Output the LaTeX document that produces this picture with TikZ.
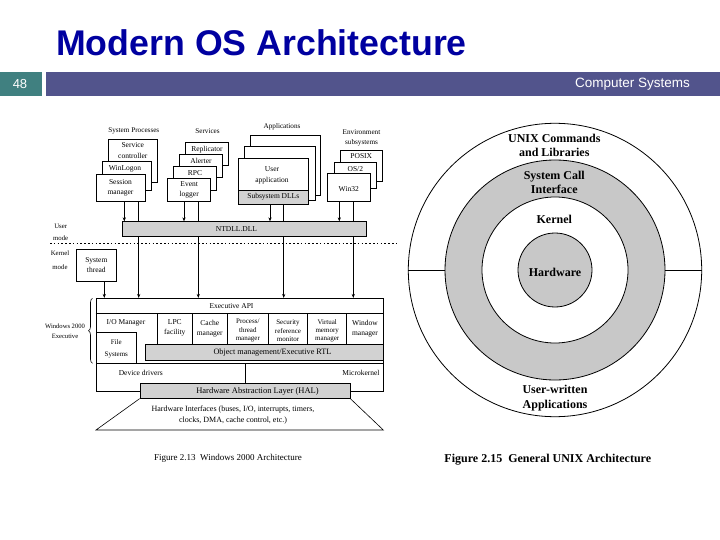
\documentclass[tikz,border=0pt]{standalone}
\usepackage{fontspec}
\setmainfont{Liberation Serif}
\newfontfamily\hdrfont{Liberation Sans}
\usetikzlibrary{arrows.meta,decorations.pathreplacing,fit}
\definecolor{titleblue}{RGB}{0,0,160}
\definecolor{barblue}{RGB}{82,84,140}
\definecolor{tealbox}{RGB}{64,128,128}
\definecolor{lgray}{RGB}{210,210,210}
\definecolor{rgray}{RGB}{200,200,200}
\newcommand\setfs[2]{\fontsize{#1}{#2}\selectfont}
\begin{document}
\begin{tikzpicture}[x=1pt,y=-1pt,
  box/.style={draw, line width=0.7pt, fill=white, inner sep=0pt},
  gbox/.style={box, fill=lgray},
  txt/.style={inner sep=0pt, font=\setfs{7.5}{10.5}, align=center},
  txs/.style={inner sep=0pt, font=\setfs{7}{8.4}, align=center},
  lbl/.style={inner sep=0pt, font=\setfs{7.2}{10.6}, align=center},
  arr/.style={line width=0.6pt, -{Stealth[length=4pt,width=3.2pt]}},
  ln/.style={line width=0.6pt},
  ring/.style={circle, draw, line width=0.8pt, inner sep=0pt},
  ulbl/.style={inner sep=0pt, font=\setfs{12}{14.4}\bfseries, align=center}
]
\useasboundingbox (0,0) rectangle (720,540);
% ---------- header ----------
\node[anchor=base west, inner sep=0pt, text=titleblue, font=\hdrfont\setfs{35.7}{40}\bfseries] (title) at (56,56) {Modern OS Architecture};
\fill[tealbox] (0,72) rectangle (42,96);
\fill[barblue] (46,72) rectangle (720,96);
\node[text=white, inner sep=0pt, font=\hdrfont\setfs{13}{15}] (pnum) at (20,84.5) {48};
\node[anchor=east, text=white, inner sep=0pt, font=\hdrfont\setfs{13.5}{15}] (course) at (690,84.5) {Computer Systems};

% ---------- Windows 2000 ----------
\node[lbl] (tsp) at (133.8,131) {System Processes};
\node[lbl] (tsv) at (207.5,131) {Services};
\node[lbl] (tap) at (282,126.5) {Applications};
\node[lbl] (tes) at (361.5,138) {Environment\\subsystems};

% system processes
\node[box, fit={(108.3,139)(157.3,182)}] (sc) {};
\node[txt] (tsc) at (132.8,150.5) {Service\\controller};
\node[box, fit={(102.3,161.7)(151.3,190)}] (wl) {};
\node[txt] (twl) at (125,168.7) {WinLogon};
\node[box, fit={(96,174)(145,201.7)}] (sm) {};
\node[txt] (tsm) at (sm) {Session\\manager};

% services
\node[box, line width=1pt, fit={(185.7,142.7)(228.3,166)}] (rep) {};
\node[txt] (trep) at (207,149.5) {Replicator};
\node[box, line width=1pt, fit={(179.3,154.3)(222.7,177.7)}] (alr) {};
\node[txt] (talr) at (201,161) {Alerter};
\node[box, fit={(173.3,166.7)(216.7,190)}] (rpc) {};
\node[txt] (trpc) at (195,172.7) {RPC};
\node[box, fit={(167.7,178.3)(210.7,201.7)}] (evl) {};
\node[txt] (tevl) at (evl) {Event\\logger};

% applications
\node[box, fit={(250.7,135)(320.7,195)}] (app3) {};
\node[box, fit={(244.3,146.7)(315,200)}] (app2) {};
\node[box, fit={(238.3,158.3)(308.3,190)}] (app1) {};
\node[txt] (tapp) at (272,175.5) {User\\application};
\node[gbox, fit={(238.3,190)(308.3,204.3)}] (dll) {};
\node[txt] (tdll) at (dll) {Subsystem DLLs};

% environment subsystems
\node[box, line width=1pt, fit={(340,150.7)(382.7,181.7)}] (posix) {};
\node[txt] (tposix) at (361.3,156.3) {POSIX};
\node[box, fit={(334,162.3)(376.7,188)}] (os2) {};
\node[txt] (tos2) at (355.3,169) {OS/2};
\node[box, fit={(327.7,173.3)(370,201.7)}] (w32) {};
\node[txt] (tw32) at (348.8,189.5) {Win32};

% NTDLL
\node[gbox, fit={(122.3,221.7)(366,236.7)}] (nt) {};
\node[txt] (tnt) at (236.5,229.2) {NTDLL.DLL};

% mode separator
\draw[line width=1.6pt, dash pattern=on 1.6pt off 2.2pt] (50,243.3) -- (398,243.3);
\node[txs, font=\setfs{6.8}{11.5}] (tum) at (60.7,232.5) {User\\mode};
\node[txs, font=\setfs{6.8}{14}] (tkm) at (60,260.3) {Kernel\\mode};
\node[box, fit={(76,249.3)(116.7,281)}] (st) {};
\node[txt] (tst) at (st) {System\\thread};

% executive
\node[box, fit={(96,298.3)(383.3,363.3)}] (ex) {};
\draw[ln] (ex.west |- 0,313.3) -- (ex.east |- 0,313.3);
\node[txt] (tapi) at (231.5,305.8) {Executive API};
\foreach \x in {157.3,192.3,227.3,268.3,307.7,346.7}
  \draw[ln] (\x,313.3) -- (\x,344.3);
\node[txt] (tio) at (126,323.3) {I/O Manager};
\node[txt, font=\setfs{7.5}{10}] (tlpc) at (174.8,328.3) {LPC\\facility};
\node[txt, font=\setfs{7.5}{10}] (tcache) at (209.8,328.3) {Cache\\manager};
\node[txs] (tproc) at (247.8,330.8) {Process/\\thread\\manager};
\node[txs] (tsec) at (288,330.8) {Security\\reference\\monitor};
\node[txs] (tvm) at (327.2,330.8) {Virtual\\memory\\manager};
\node[txt, font=\setfs{7.5}{10}] (twm) at (365,328.3) {Window\\manager};
\node[gbox, fit={(145.3,344.3)(383.3,360)}] (om) {};
\node[txt, font=\setfs{8.2}{10}] (tom) at (272.5,352.2) {Object management/Executive RTL};
\node[box, fit={(96,332.3)(136.7,363.3)}] (fs) {};
\node[txt, font=\setfs{7}{11.5}] (tfs) at (116.3,349) {File\\Systems};

% brace
\draw[decorate, decoration={brace, amplitude=4pt}, line width=0.6pt] (92.5,363.3) -- (92.5,298.3);
\node[txs, font=\setfs{6.6}{9.5}] (twe) at (65,331.3) {Windows 2000\\Executive};

% drivers / microkernel
\node[box, fit={(96,363.3)(383.3,391.7)}] (dd) {};
\draw[ln] (245,363.3) -- (245,383.3);
\node[txt] (tdd) at (140.8,373.3) {Device drivers};
\node[txt] (tmk) at (361,373.3) {Microkernel};

% HAL
\node[gbox, fit={(140,383.3)(350,398.3)}] (hal) {};
\node[txt, font=\setfs{8.5}{10}] (thal) at (257.5,391) {Hardware Abstraction Layer (HAL)};
\draw[ln] (hal.south west) -- (96,430) -- (383.3,430) -- (hal.south east);
\node[txt, font=\setfs{8}{11.4}] (thw) at (233,415) {Hardware Interfaces (buses, I/O, interrupts, timers,\\clocks, DMA, cache control, etc.)};

% connectors
\foreach \s/\xa/\xb in {sm/124.3/138.7, evl/184/198.3, dll/270/283.7, w32/339.3/353.3} {
  \draw[arr] (\s.south -| \xa,0) -- (nt.north -| \xa,0);
  \draw[ln] (\s.south -| \xb,0) -- (nt.north -| \xb,0);
  \draw[arr] (nt.south -| \xb,0) -- (ex.north -| \xb,0);
}
\draw[arr] (st.south -| 104.3,0) -- (ex.north -| 104.3,0);

\node[inner sep=0pt, font=\setfs{9}{11}] (cap1) at (228,458.3) {Figure 2.13\enspace Windows 2000 Architecture};

% ---------- UNIX ----------
\node[ring, fill=white, minimum size=293.4pt] (outer) at (555,270) {};
\node[ring, fill=rgray, minimum size=220pt] (scl) at (555,270) {};
\node[ring, fill=white, minimum size=146pt] (kern) at (555,270) {};
\node[ring, fill=rgray, minimum size=74pt] (hw) at (555,270) {};
\draw[line width=0.8pt] (outer.west) -- (scl.west);
\draw[line width=0.8pt] (scl.east) -- (outer.east);
\node[ulbl] (tunix) at (554.3,145.5) {UNIX Commands\\and Libraries};
\node[ulbl] (tsci) at (554.3,182.2) {System Call\\Interface};
\node[ulbl] (tkern) at (554.3,219.3) {Kernel};
\node[ulbl] (thwr) at (555,272) {Hardware};
\node[ulbl] (tuwa) at (555,398.3) {User-written\\Applications};
\node[inner sep=0pt, font=\setfs{12}{14}\bfseries] (cap2) at (547.8,460) {Figure 2.15\enspace General UNIX Architecture};
\end{tikzpicture}
\end{document}
